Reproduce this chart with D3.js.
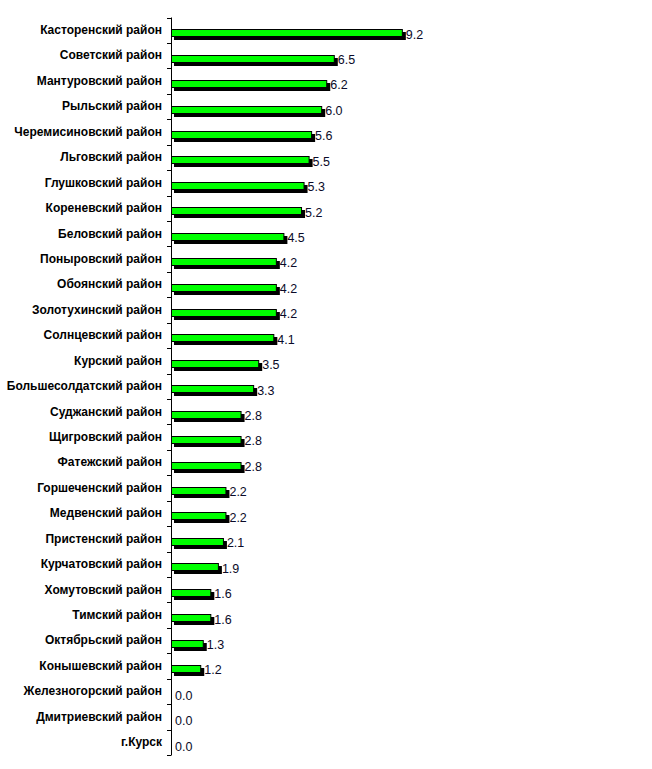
<!DOCTYPE html>
<html>
<head>
<meta charset="utf-8">
<script src="https://cdn.jsdelivr.net/npm/d3@7"></script>
<style>
  body { margin: 0; background: #fff; }
  svg { display: block; }
</style>
</head>
<body>
<svg width="652" height="769"></svg>
<script>
// районы, сверху вниз
var districts = [
    "Касторенский район", "Советский район", "Мантуровский район", "Рыльский район",
    "Черемисиновский район", "Льговский район", "Глушковский район", "Кореневский район",
    "Беловский район", "Поныровский район", "Обоянский район", "Золотухинский район",
    "Солнцевский район", "Курский район", "Большесолдатский район", "Суджанский район",
    "Щигровский район", "Фатежский район", "Горшеченский район", "Медвенский район",
    "Пристенский район", "Курчатовский район", "Хомутовский район", "Тимский район",
    "Октябрьский район", "Конышевский район", "Железногорский район", "Дмитриевский район",
    "г.Курск"
];
var values = [9.2, 6.5, 6.2, 6.0, 5.6, 5.5, 5.3, 5.2, 4.5, 4.2, 4.2, 4.2, 4.1, 3.5, 3.3,
    2.8, 2.8, 2.8, 2.2, 2.2, 2.1, 1.9, 1.6, 1.6, 1.3, 1.2, 0.0, 0.0, 0.0];

var svg = d3.select("svg");
var x0 = 171, yTop = 17.5, yBottom = 755;

var x = d3.scaleLinear().domain([0, 10]).range([x0, x0 + 252]);
var y = d3.scaleBand().domain(districts).range([yTop, yBottom]);

var bh = 8; // bar height
var g = svg.append("g");

var rows = districts.map((d, i) => ({name: d, value: values[i]}));
var withBars = rows.filter(r => r.value > 0);

// shadow
g.selectAll("rect.shadow")
    .data(withBars)
    .enter().append("rect")
    .attr("class", "shadow")
    .attr("x", x0 + 3)
    .attr("y", d => Math.round(y(d.name) + y.bandwidth() / 2) + 2)
    .attr("width", d => x(d.value) - x0)
    .attr("height", bh)
    .attr("fill", "#000");

// bars
g.selectAll("rect.bar")
    .data(withBars)
    .enter().append("rect")
    .attr("class", "bar")
    .attr("x", x0 + 0.5)
    .attr("y", d => Math.round(y(d.name) + y.bandwidth() / 2) - 0.5)
    .attr("width", d => x(d.value) - x0 - 1)
    .attr("height", bh - 1)
    .attr("fill", "#00ff00")
    .attr("stroke", "#000");

// value labels
g.selectAll("text.val")
    .data(rows)
    .enter().append("text")
    .attr("class", "val")
    .attr("x", d => d.value > 0 ? x(d.value) + 3 : x0 + 4)
    .attr("y", d => y(d.name) + y.bandwidth() / 2 + 4)
    .attr("dy", "0.35em")
    .attr("font-family", "Liberation Sans, Arial, sans-serif")
    .attr("font-size", 12.5)
    .attr("fill", "#0a0a28")
    .text(d => d.value.toFixed(1));

// axis
var axis = d3.axisLeft(y).tickSize(0).tickPadding(9);
var ax = svg.append("g").attr("transform", "translate(" + x0 + ",0)").call(axis);
ax.select(".domain").attr("stroke", "#000").attr("d", "M0.5," + yTop + "V" + yBottom);
ax.selectAll("text")
    .attr("font-family", "Liberation Sans, Arial, sans-serif")
    .attr("font-size", 12)
    .attr("font-weight", "bold")
    .attr("letter-spacing", "0")
    .attr("fill", "#000");

// tick marks at band edges
var edges = districts.map(d => y(d)).concat([yBottom]);
ax.selectAll("line.edge")
    .data(edges)
    .enter().append("line")
    .attr("class", "edge")
    .attr("x1", -4).attr("x2", 0.5)
    .attr("y1", d => Math.round(d) + 0.5).attr("y2", d => Math.round(d) + 0.5)
    .attr("stroke", "#000");
</script>
</body>
</html>
